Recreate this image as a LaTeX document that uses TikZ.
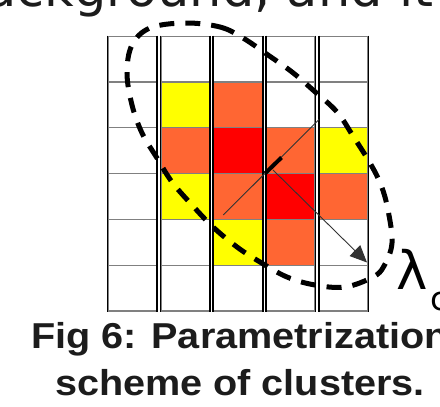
\documentclass[tikz,border=0pt]{standalone}
\usepackage{fontspec}
\setmainfont{Liberation Sans}
\newfontfamily\bodyfont{DejaVu Sans}
\usetikzlibrary{arrows.meta}

\definecolor{cellyellow}{HTML}{FFFF00}
\definecolor{cellorange}{HTML}{FF6633}
\definecolor{cellred}{HTML}{FF0000}
\definecolor{gridgray}{HTML}{808080}
\definecolor{inktext}{HTML}{1C1C1C}
\definecolor{axisline}{HTML}{333333}

\tikzset{
  cell/.style={rectangle, draw=gridgray, line width=1.3pt, inner sep=0pt,
    minimum width=48.4pt, minimum height=45.83pt, anchor=north west},
  colside/.style={draw=black, line width=1.4pt},
  contour/.style={draw=black, line width=5pt, dash pattern=on 15pt off 11pt},
  axis/.style={draw=axisline, line width=0.9pt},
  caption/.style={anchor=base, inner sep=0pt, text=inktext,
    font=\bfseries\fontsize{36}{36}\selectfont}
}

\begin{document}
\begin{tikzpicture}[x=1pt,y=-1pt]
\useasboundingbox (0,0) rectangle (440,407);
\fill[white] (0,0) rectangle (440,407);

% running text above the figure
\node[anchor=base west, inner sep=0pt, text=inktext,
      font=\bodyfont\fontsize{51}{51}\selectfont] (bodytext) at (-15,6) {ackground, and it};

% coloured cells of the cluster
\foreach \c/\r/\col in {2/2/cellyellow, 3/2/cellorange,
                        2/3/cellorange, 3/3/cellred, 4/3/cellorange, 5/3/cellyellow,
                        2/4/cellyellow, 3/4/cellorange, 4/4/cellred, 5/4/cellorange,
                        3/5/cellyellow, 4/5/cellorange}{
  \pgfmathsetmacro\xl{107.3+52.9*(\c-1)}
  \pgfmathsetmacro\yt{35.5+45.83*(\r-1)}
  \fill[\col] (\xl,\yt) rectangle ++(48.4,45.83);
}

% grid of five separate columns
\foreach \c in {1,...,5}{
  \pgfmathsetmacro\xl{107.3+52.9*(\c-1)}
  \foreach \r in {1,...,6}{
    \pgfmathsetmacro\yt{35.5+45.83*(\r-1)}
    \node[cell] (cell-\c-\r) at (\xl,\yt) {};
  }
  \draw[colside] (cell-\c-1.north west) -- (cell-\c-6.south west);
  \draw[colside] (cell-\c-1.north east) -- (cell-\c-6.south east);
}

% axes of the cluster
\coordinate (diagA) at (223.3,215);
\coordinate (diagB) at (319,119.5);
\coordinate (ctr) at (265,173.5);
\coordinate (tickEnd) at (281.5,157.5);
\coordinate (arrowStart) at (273,170);
\coordinate (arrowTip) at (367,262.5);

\draw[axis] (diagA) -- (diagB);
\draw[draw=black, line width=4pt] (ctr) -- (tickEnd);
\draw[axis, -{Triangle[length=17pt, width=15pt]}] (arrowStart) -- (arrowTip);

% dashed contour around the cluster
\draw[contour] plot[smooth cycle, tension=0.6] coordinates {
  (185,23) (220,27) (243,38) (268,55) (292,72) (313,90) (337,112) (353,136)
  (370,163) (381,185) (388,210) (392,243) (384,266) (373,277) (345,287)
  (315,285) (287,277) (260,262) (237,247) (213,227) (192,205) (172,182)
  (157,158) (142,133) (132,105) (127,73) (132,45) (150,28)};

% size label
\node[anchor=base west, inner sep=0pt, text=black,
      font=\bodyfont\fontsize{53}{53}\selectfont] (lam) at (396,289) {λ};
\node[anchor=base west, inner sep=0pt, text=black,
      font=\bodyfont\fontsize{33}{33}\selectfont] (lamsub) at (430,310) {c};

% caption
\node[caption] (cap1) at (240,348) {\scalebox{1.1}[1]{Fig 6: Parametrization}};
\node[caption] (cap2) at (240,395) {\scalebox{1.1}[1]{scheme of clusters.}};
\end{tikzpicture}
\end{document}
